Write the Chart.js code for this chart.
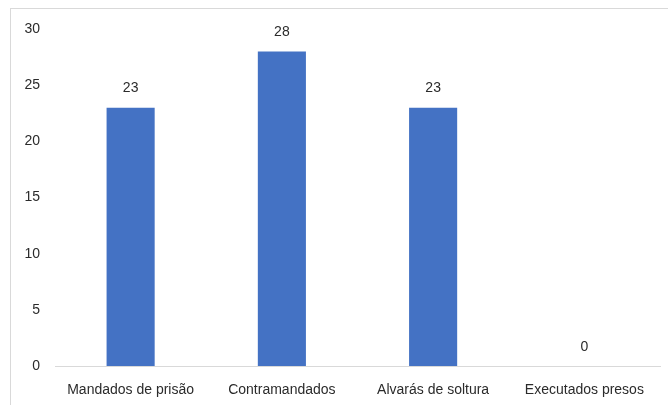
<!DOCTYPE html>
<html>
<head>
<meta charset="utf-8">
<script src="https://cdn.jsdelivr.net/npm/chart.js@4"></script>
<style>
  html, body { margin: 0; padding: 0; background: #fff; overflow: hidden; }
  #moldura {
    position: absolute; left: 10px; top: 8px; width: 700px; height: 430px;
    border: 1px solid #d9d9d9; box-sizing: border-box;
  }
  #grafico { position: absolute; left: 0; top: 0; }
</style>
</head>
<body>
<div id="moldura"></div>
<canvas id="grafico" width="668" height="405"></canvas>
<script>
const categorias = ['Mandados de prisão', 'Contramandados', 'Alvarás de soltura', 'Executados presos'];
const valores = [23, 28, 23, 0];
const yMin = 0;
const yMax = 30;
const yPasso = 5;

const fonte = { family: "'Liberation Sans', Arial, sans-serif", size: 14 };
const corTexto = '#2b2b2b';

// desenha os valores acima das barras
const rotulosBarras = {
    id: 'rotulosBarras',
    afterDatasetsDraw(chart) {
        const ctx = chart.ctx;
        const meta = chart.getDatasetMeta(0);
        ctx.save();
        ctx.font = fonte.size + 'px ' + fonte.family;
        ctx.fillStyle = corTexto;
        ctx.textAlign = 'center';
        ctx.textBaseline = 'middle';
        meta.data.forEach((barra, i) => {
            ctx.fillText(String(valores[i]), barra.x, barra.y - 19);
        });
        ctx.restore();
    }
};

const ctx = document.getElementById('grafico').getContext('2d');
const chart = new Chart(ctx, {
    type: 'bar',
    data: {
        labels: categorias,
        datasets: [{
            data: valores,
            backgroundColor: '#4472C4',
            barPercentage: 1,
            categoryPercentage: 0.318
        }]
    },
    options: {
        responsive: false,
        animation: false,
        layout: { padding: { top: 29, right: 8, bottom: 0, left: 0 } },
        plugins: {
            legend: { display: false },
            tooltip: { enabled: false }
        },
        scales: {
            x: {
                grid: { display: false },
                border: { display: true, color: '#d9d9d9', width: 1 },
                ticks: { color: corTexto, font: fonte, padding: 8, maxRotation: 0 },
                afterFit(scale) { scale.height = 39; }
            },
            y: {
                min: yMin,
                max: yMax,
                grid: { display: false, drawTicks: false },
                border: { display: false },
                ticks: { stepSize: yPasso, color: corTexto, font: fonte, padding: 15 },
                afterFit(scale) { scale.width = 55; }
            }
        }
    },
    plugins: [rotulosBarras]
});
</script>
</body>
</html>
